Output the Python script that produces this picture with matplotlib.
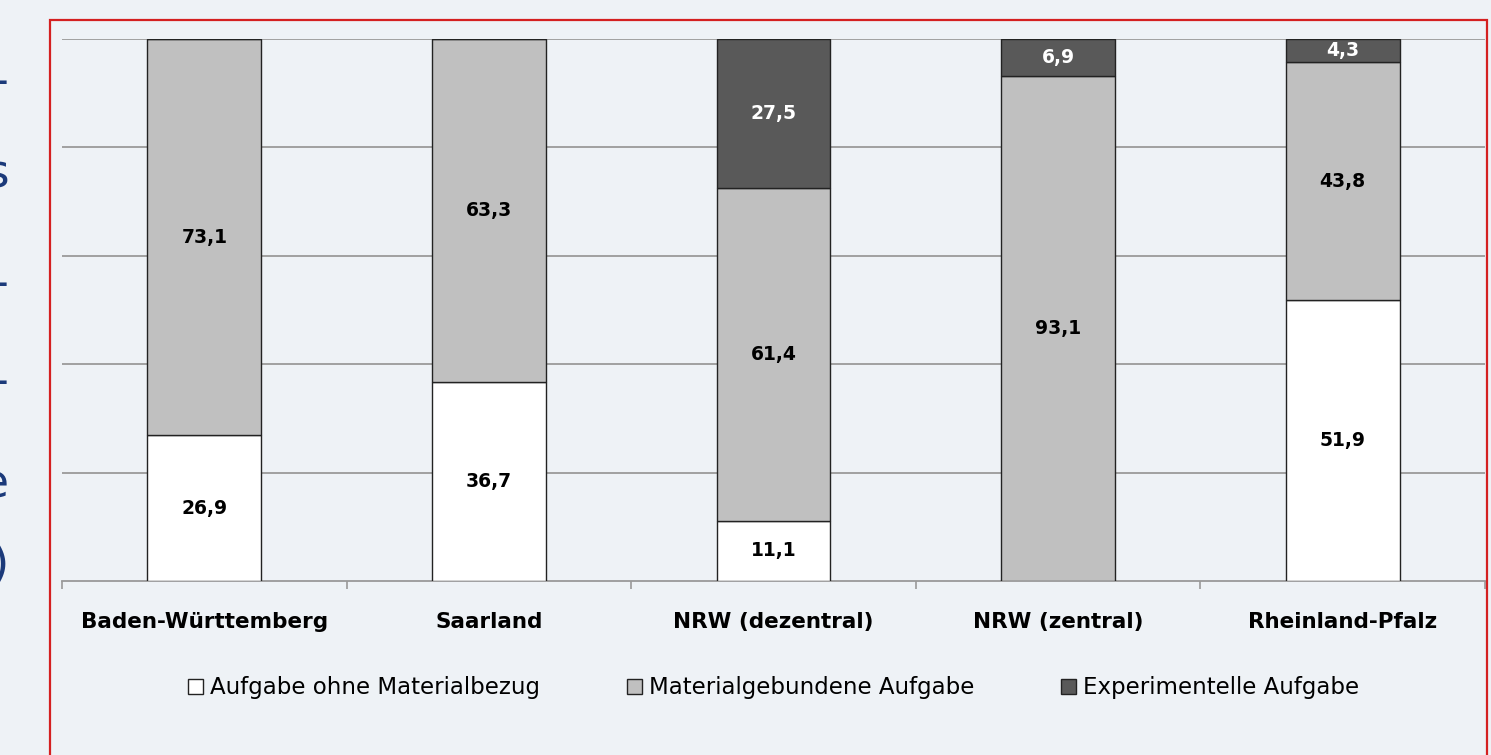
import numpy as np
import matplotlib
matplotlib.use('Agg')
import matplotlib.pyplot as plt
from matplotlib.patches import Rectangle

# data (percent)
categories = ['Baden-Württemberg', 'Saarland', 'NRW (dezentral)', 'NRW (zentral)', 'Rheinland-Pfalz']
ohne_material = [26.9, 36.7, 11.1, 0.0, 51.9]
materialgebunden = [73.1, 63.3, 61.4, 93.1, 43.8]
experimentell = [0.0, 0.0, 27.5, 6.9, 4.3]
series_names = ['Aufgabe ohne Materialbezug', 'Materialgebundene Aufgabe', 'Experimentelle Aufgabe']

bg = '#eef2f6'
colors = ['#ffffff', '#c0c0c0', '#595959']
label_colors = ['black', 'black', 'white']

fig = plt.figure(figsize=(14.91, 7.55), dpi=100, facecolor=bg)
ax = fig.add_axes([62 / 1491, 174 / 755, 1423 / 1491, 542 / 755])
ax.set_facecolor(bg)

x = np.arange(len(categories)) + 0.5
bottom = np.zeros(len(categories))
for vals, col, lc, name in zip([ohne_material, materialgebunden, experimentell], colors, label_colors, series_names):
    vals = np.array(vals)
    ax.bar(x, vals, 0.4, bottom=bottom, color=col, edgecolor='#222222', linewidth=1.0,
           label=name, zorder=3)
    for xi, b, v in zip(x, bottom, vals):
        if v > 0:
            ax.text(xi, b + v / 2, f'{v:.1f}'.replace('.', ','), ha='center', va='center',
                    fontsize=13.5, fontweight='bold', color=lc, zorder=4)
    bottom += vals

ax.set_xlim(0, 5)
ax.set_ylim(0, 100)
ax.set_yticks([20, 40, 60, 80, 100])
ax.yaxis.grid(True, color='#9a9a9a', linewidth=1.3, zorder=0)
ax.tick_params(axis='y', length=0, labelleft=False)
for s in ['left', 'right', 'top']:
    ax.spines[s].set_visible(False)
ax.spines['bottom'].set_color('#999999')
ax.spines['bottom'].set_linewidth(1.3)

ax.set_xticks(np.arange(6))
ax.set_xticklabels([])
ax.tick_params(axis='x', which='major', length=6, color='#999999', width=1.2)
ax.set_xticks(x, minor=True)
ax.set_xticklabels(categories, minor=True, fontsize=15.5, fontweight='bold')
ax.tick_params(axis='x', which='minor', length=0, pad=22)

fig.legend(loc='center', bbox_to_anchor=(0.519, 0.089), ncol=3, frameon=False,
           fontsize=16.5, handlelength=0.65, handleheight=0.65, handletextpad=0.3,
           columnspacing=3.8)

# red frame around chart
fig.patches.append(Rectangle((50 / 1491, -0.05), 1437 / 1491, 0.05 + 735 / 755,
                             transform=fig.transFigure, fill=False,
                             edgecolor='#d42020', linewidth=1.6))

# cut-off slide text on the left edge
for ytop, ch in [(82, '-'), (175, 's'), (285, '-'), (382, '-'), (485, 'e'), (565, ')')]:
    fig.text(9 / 1491, 1 - ytop / 755, ch, ha='right', va='center', fontsize=34,
             color='#1b3a7a')

fig.savefig('out.png', dpi=100, facecolor=bg)
